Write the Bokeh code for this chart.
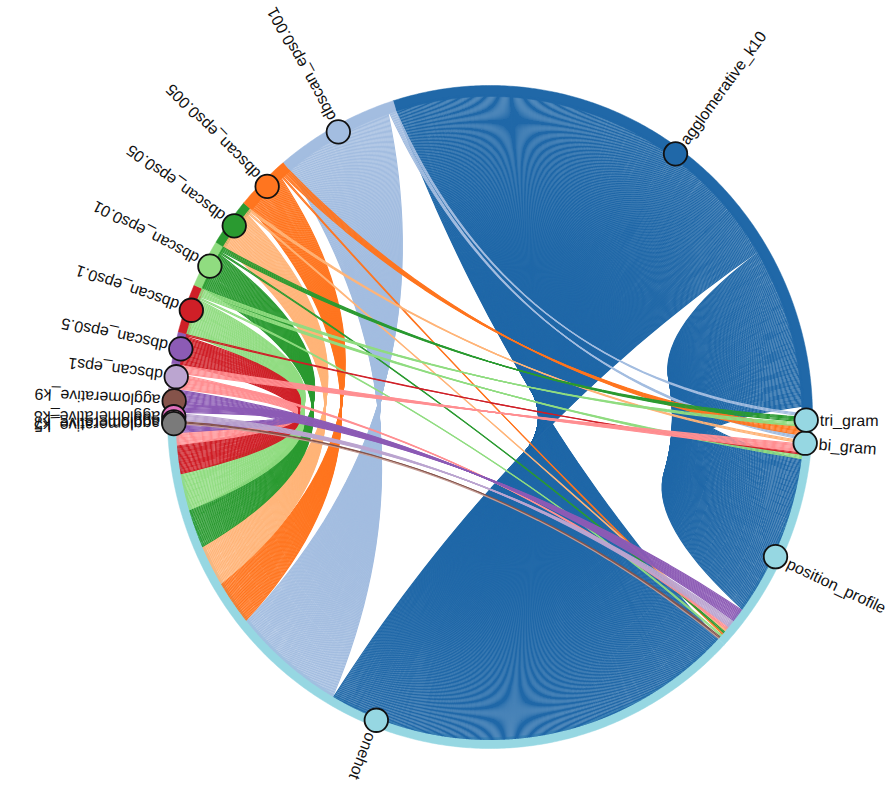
import math
from bokeh.plotting import figure
from bokeh.models import ColumnDataSource, Range1d
from bokeh.core.properties import value
from bokeh.embed import file_html
from bokeh.resources import INLINE

# nodes in clockwise order, starting at the upper left of the ring
k10 = "agglomerative_k10"
node_order = [k10, "tri_gram", "bi_gram", "position_profile", "onehot",
              "agglomerative_k5", "agglomerative_k7", "agglomerative_k8", "agglomerative_k9",
              "dbscan_eps1", "dbscan_eps0.5", "dbscan_eps0.1", "dbscan_eps0.01",
              "dbscan_eps0.05", "dbscan_eps0.005", "dbscan_eps0.001"]
node_colors = ["#2068a8", "#96d7e2", "#96d7e2", "#96d7e2", "#96d7e2",
               "#7a7a7a", "#f2b0d0", "#df70bd", "#85534a",
               "#bba5d0", "#8c5bb5", "#cf1f27", "#90dc80",
               "#2a9a30", "#ff751f", "#a3bde0"]
edge_colors = {k10: "#2068a8", "dbscan_eps0.001": "#a3bde0", "dbscan_eps0.005": "#ff751f",
               "dbscan_eps0.05": "#ffb478", "dbscan_eps0.01": "#2a9a30", "dbscan_eps0.1": "#90dc80",
               "dbscan_eps0.5": "#cf1f27", "dbscan_eps1": "#ff8f92", "agglomerative_k9": "#8c5bb5",
               "agglomerative_k8": "#bba5d0", "agglomerative_k7": "#85534a", "agglomerative_k5": "#c49c94"}

# flows into each target, in the order they sit on the target's arc
tri_sources = ["dbscan_eps0.001", "dbscan_eps0.01", "dbscan_eps0.1"]
tri_counts = [3, 5, 4]
bi_sources = ["dbscan_eps0.005", "dbscan_eps0.001", "dbscan_eps0.05", "dbscan_eps1", "dbscan_eps0.5", "dbscan_eps0.1"]
bi_counts = [8, 4, 3, 8, 2, 4]
profile_sources = [k10, "agglomerative_k9", "agglomerative_k8", "dbscan_eps1", "dbscan_eps0.05",
                   "dbscan_eps0.01", "dbscan_eps0.005", "dbscan_eps0.1", "agglomerative_k7", "agglomerative_k5"]
profile_counts = [146, 13, 7, 3, 2, 2, 2, 2, 2, 1]
onehot_sources = [k10, "dbscan_eps0.001", "dbscan_eps0.005", "dbscan_eps0.05", "dbscan_eps0.01",
                  "dbscan_eps0.1", "dbscan_eps0.5", "dbscan_eps1", "agglomerative_k9"]
onehot_counts = [384, 105, 40, 37, 35, 33, 26, 11, 8]
k10_unused = 6
draw_order = [k10, "dbscan_eps0.001", "dbscan_eps0.005", "dbscan_eps0.05", "dbscan_eps0.01", "dbscan_eps0.1",
              "dbscan_eps0.5", "dbscan_eps1", "agglomerative_k9", "agglomerative_k8", "agglomerative_k7", "agglomerative_k5"]

START = -17.5
R_OUT, R_IN, R_LINE, R_DOT, R_LABEL = 331.5, 320.5, 323, 325, 339
BEND = 0.77
CX, CY = 489.5, 416.5
SX = 0.973
W, H = 893, 793

target_table = {"tri_gram": (tri_sources, tri_counts), "bi_gram": (bi_sources, bi_counts),
                "position_profile": (profile_sources, profile_counts), "onehot": (onehot_sources, onehot_counts)}
sizes = {n: 0 for n in node_order}
for t, (srcs, cnts) in target_table.items():
    for s, c in zip(srcs, cnts):
        sizes[t] += c
        sizes[s] += c
sizes[k10] += k10_unused
unit = 360.0 / sum(sizes.values())

arc = {}
pos = START
for n in node_order:
    arc[n] = (pos, pos + sizes[n] * unit)
    pos += sizes[n] * unit

def pt(deg, r):
    a = math.radians(deg)
    return r * math.sin(a), r * math.cos(a)

src_cursor = {n: arc[n][0] for n in node_order}
flows = {}
for t in ["onehot", "position_profile", "bi_gram", "tri_gram"]:
    srcs, cnts = target_table[t]
    tc = arc[t][0]
    for s, c in zip(srcs, cnts):
        flows.setdefault(s, []).append((src_cursor[s], tc, c))
        src_cursor[s] += c * unit
        tc += c * unit

p = figure(width=W, height=H, output_backend="svg", toolbar_location=None,
           x_range=Range1d(-CX / SX, (W - CX) / SX), y_range=Range1d(CY - H, CY), min_border=0)
p.axis.visible = False
p.grid.visible = False
p.outline_line_color = None

ring_x, ring_y = [], []
for n in node_order:
    a0, a1 = arc[n]
    m = max(2, int((a1 - a0) / 0.5))
    angs = [a0 + (a1 - a0) * i / m for i in range(m + 1)]
    outer = [pt(a, R_OUT) for a in angs]
    inner = [pt(a, R_IN) for a in reversed(angs)]
    ring_x.append([q[0] for q in outer + inner])
    ring_y.append([q[1] for q in outer + inner])
p.patches(ring_x, ring_y, fill_color=node_colors, line_color=node_colors, line_width=0.5)

steps = 36
xs, ys, cs = [], [], []
for s in draw_order:
    for a0, b0, c in flows[s]:
        for i in range(c):
            x0, y0 = pt(a0 + (i + .5) * unit, R_LINE)
            x1, y1 = pt(b0 + (i + .5) * unit, R_LINE)
            cx, cy = (x0 + x1) / 2 * (1 - BEND), (y0 + y1) / 2 * (1 - BEND)
            lx, ly = [], []
            for j in range(steps + 1):
                t = j / steps
                lx.append((1 - t) ** 2 * x0 + 2 * t * (1 - t) * cx + t ** 2 * x1)
                ly.append((1 - t) ** 2 * y0 + 2 * t * (1 - t) * cy + t ** 2 * y1)
            xs.append(lx); ys.append(ly); cs.append(edge_colors[s])
p.multi_line(xs=xs, ys=ys, line_color=cs, line_width=1.15)

mids = [(arc[n][0] + arc[n][1]) / 2 for n in node_order]
rev = list(range(len(node_order)))[::-1]
dx = [pt(mids[i], R_DOT)[0] for i in rev]
dy = [pt(mids[i], R_DOT)[1] for i in rev]
p.scatter(dx, dy, size=23.5, fill_color=[node_colors[i] for i in rev], line_color="#111111", line_width=1.8)

label_src = ColumnDataSource(dict(x=[pt(m, R_LABEL)[0] for m in mids], y=[pt(m, R_LABEL)[1] for m in mids],
                                  t=node_order, a=[math.radians(90 - m) for m in mids]))
p.text(x="x", y="y", text="t", angle="a", source=label_src, text_font=value("Liberation Sans"),
       text_font_size="16px", text_color="#111111", text_align="left", text_baseline="middle")

open("out.html", "w").write(file_html(p, INLINE))
